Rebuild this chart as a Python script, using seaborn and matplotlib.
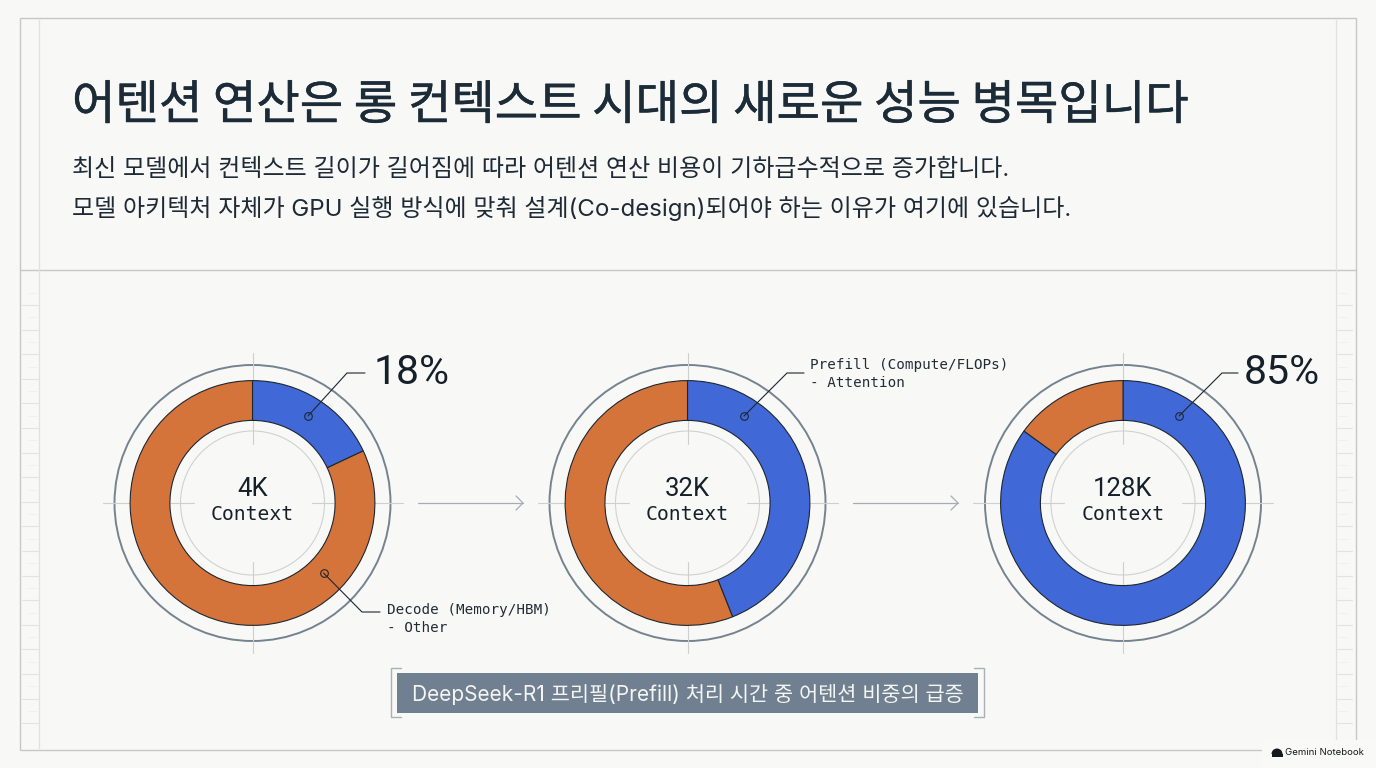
import numpy as np
import matplotlib
matplotlib.use("Agg")
import matplotlib.pyplot as plt
import matplotlib.patheffects as pe
import seaborn as sns
from matplotlib.patches import Circle, Rectangle, Wedge

# values
contexts = ["4K", "32K", "128K"]
prefill_share = [18, 44, 85]
big_labels = ["18%", None, "85%"]
title = "어텐션 연산은 롱 컨텍스트 시대의 새로운 성능 병목입니다"
subtitle_1 = "최신 모델에서 컨텍스트 길이가 길어짐에 따라 어텐션 연산 비용이 기하급수적으로 증가합니다."
subtitle_2 = "모델 아키텍처 자체가 GPU 실행 방식에 맞춰 설계(Co-design)되어야 하는 이유가 여기에 있습니다."
caption = "DeepSeek-R1 프리필(Prefill) 처리 시간 중 어텐션 비중의 급증"

BG = "#f8f8f6"
INK = "#1c2b38"
BLUE, ORANGE = sns.color_palette(["#4068d6", "#d5743a"])
SLATE = "#708090"
KR = ["Noto Sans CJK KR", "DejaVu Sans"]
KR_LATIN = ["Inter", "Noto Sans CJK KR"]
MONO = "DejaVu Sans Mono"
LATIN = "Inter"

sns.set_theme(style="white")
W, H = 1376, 768
fig = plt.figure(figsize=(W / 100, H / 100), dpi=100, facecolor=BG)


def pixel_axes(z):
    a = fig.add_axes([0, 0, 1, 1], zorder=z)
    a.set_xlim(0, W)
    a.set_ylim(H, 0)
    a.axis("off")
    a.patch.set_alpha(0)
    return a


back = pixel_axes(0)
front = pixel_axes(2)

# frame and rulers
back.add_patch(Rectangle((20, 18), 1336, 732, fill=False, ec="#c6c8c8", lw=1.0))
back.plot([20, 1356], [270, 270], color="#c6c8c8", lw=1.0)
back.plot([39, 39], [20, 748], color="#e0e1e0", lw=0.9)
back.plot([1336, 1336], [20, 748], color="#e0e1e0", lw=0.9)
for y in np.arange(305, 740, 24.6):
    back.plot([22, 39], [y, y], color="#e2e3e2", lw=0.8)
    back.plot([1336, 1352], [y, y], color="#e2e3e2", lw=0.8)
    back.plot([28, 37], [y - 12.3, y - 12.3], color="#f0f0ee", lw=0.7)
    back.plot([1338, 1347], [y - 12.3, y - 12.3], color="#f0f0ee", lw=0.7)

# donuts
cx_list = [252.5, 687.5, 1123]
cy = 503
R_OUT, R_IN = 123, 83
for cx, ctx, share in zip(cx_list, contexts, prefill_share):
    back.add_patch(Circle((cx, cy), 138, fill=False, ec="#74838f", lw=1.4))
    back.add_patch(Circle((cx, cy), 72, fill=False, ec="#d0d2d1", lw=0.8))
    for sign in (-1, 1):
        back.plot([cx + sign * 150, cx + sign * 118], [cy, cy], color="#cdcfd0", lw=0.8)
        back.plot([cx + sign * 83, cx + sign * 59], [cy, cy], color="#cdcfd0", lw=0.8)
        back.plot([cx, cx], [cy + sign * 150, cy + sign * 118], color="#cdcfd0", lw=0.8)
        back.plot([cx, cx], [cy + sign * 83, cy + sign * 59], color="#cdcfd0", lw=0.8)

    ax = fig.add_axes([(cx - R_OUT) / W, 1 - (cy + R_OUT) / H, 2 * R_OUT / W, 2 * R_OUT / H], zorder=1)
    ax.pie([share, 100 - share], colors=[BLUE, ORANGE], startangle=90, counterclock=False,
           radius=1, wedgeprops=dict(width=1 - R_IN / R_OUT, edgecolor="#1d2730", linewidth=0.8))
    ax.set_xlim(-1.005, 1.005)
    ax.set_ylim(-1.005, 1.005)
    ax.patch.set_alpha(0)

    front.text(cx, cy - 14, ctx, ha="center", va="center", fontsize=18.5, family="Roboto", color="#16202a")
    front.text(cx, cy + 12, "Context", ha="center", va="center", fontsize=14.2, family=MONO, color="#16202a")

# arrows between donuts
for x0, x1 in [(418, 523), (853, 958)]:
    back.plot([x0, x1], [cy, cy], color="#a3adb5", lw=0.9)
    back.plot([x1 - 7, x1, x1 - 7], [cy - 7, cy, cy + 7], color="#a3adb5", lw=0.9)


# leader lines
def leader(pts):
    xs, ys = zip(*pts)
    front.plot(xs, ys, color="#1d2730", lw=0.8)
    front.plot(xs[0], ys[0], "o", ms=5.5, mfc="none", mec="#1d2730", mew=0.8)


leader([(308, 416), (347, 373), (365, 373)])
leader([(744, 416), (787, 373), (804, 373)])
leader([(1179, 416), (1222, 373), (1238, 373)])
leader([(323.5, 573), (362, 612), (380, 612)])

for x, label in zip([374, 1244], [big_labels[0], big_labels[2]]):
    front.text(x, 372, label, ha="left", va="center", fontsize=29.5, family="Roboto", color="#16202a")

front.text(387, 610, "Decode (Memory/HBM)", va="center", fontsize=10.3, family=MONO, color="#222c36")
front.text(387, 628, "- Other", va="center", fontsize=10.3, family=MONO, color="#222c36")
front.text(810, 365, "Prefill (Compute/FLOPs)", va="center", fontsize=10.3, family=MONO, color="#222c36")
front.text(810, 383, "- Attention", va="center", fontsize=10.3, family=MONO, color="#222c36")

# heading
title_txt = front.text(72, 106, title, va="center", fontsize=34, family=KR, color=INK)
title_txt.set_path_effects([pe.withStroke(linewidth=0.35, foreground=INK)])
front.text(72, 170, subtitle_1, va="center", fontsize=17.3, family=KR_LATIN, color="#1e2a35")
front.text(72, 208, subtitle_2, va="center", fontsize=17.3, family=KR_LATIN, color="#1e2a35")

# caption box
front.add_patch(Rectangle((397, 673), 581, 40, fc=SLATE, ec="none"))
front.text(687.5, 694, caption, ha="center", va="center", fontsize=15, family=KR_LATIN, color="#f4f5f4")
front.plot([401, 391, 391, 401], [668, 668, 717, 717], color="#a9b1b7", lw=1)
front.plot([974, 984, 984, 974], [668, 668, 717, 717], color="#a9b1b7", lw=1)

# badge
front.add_patch(Rectangle((1262, 740), 114, 28, fc="#f9f9f7", ec="none", zorder=3))
front.add_patch(Wedge((1277, 754), 5.5, 180, 360, fc="#15191d", ec="none", zorder=4))
front.add_patch(Rectangle((1271.5, 754), 11, 3, fc="#15191d", ec="none", zorder=4))
front.text(1285, 752.5, "Gemini Notebook", va="center", fontsize=6.9, family=LATIN, color="#15191d", zorder=4)

fig.savefig("out.png", dpi=100, facecolor=BG)
